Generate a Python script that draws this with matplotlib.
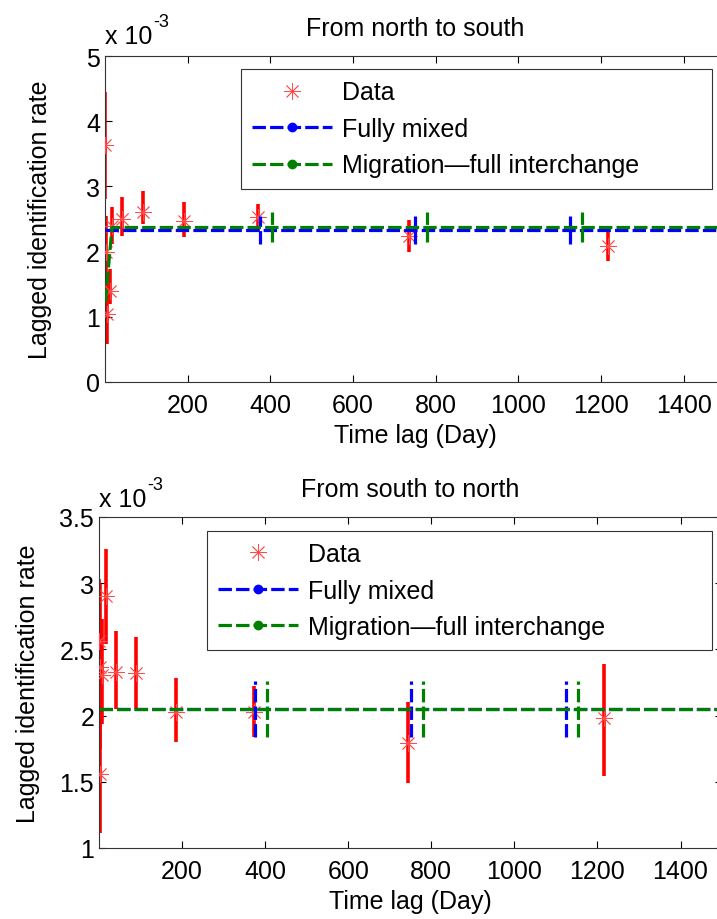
import numpy as np
import matplotlib.pyplot as plt
from matplotlib.lines import Line2D
from matplotlib.ticker import FormatStrFormatter

plt.rcParams["font.family"] = ["Liberation Sans", "DejaVu Sans"]

# rates are in units of 1e-3
# north -> south
ns_lag = [1, 2, 4, 12, 17, 42, 92, 190, 370, 736, 1218]
ns_rate = [3.63, 2.00, 1.04, 1.40, 2.40, 2.50, 2.60, 2.47, 2.53, 2.24, 2.09]
ns_low = [2.81, 1.45, 0.58, 1.20, 2.12, 2.24, 2.42, 2.22, 2.30, 2.00, 1.86]
ns_high = [4.45, 2.55, 1.50, 1.73, 2.68, 2.84, 2.93, 2.76, 2.73, 2.48, 2.30]

ns_mixed_lag = [0, 1500]
ns_mixed_rate = [2.33, 2.33]
ns_mig_lag = [1, 17, 1500]
ns_mig_rate = [1.22, 2.37, 2.37]
ns_mixed_bar = [375, 750, 1125]
ns_mig_bar = [403, 778, 1153]
ns_mixed_err = 0.22
ns_mig_err = 0.23

# south -> north
sn_lag = [1, 2, 3, 6, 16, 42, 90, 186, 374, 744, 1216]
sn_rate = [2.56, 2.37, 1.56, 2.31, 2.90, 2.33, 2.32, 2.03, 2.03, 1.79, 1.98]
sn_low = [2.09, 1.75, 1.11, 1.94, 2.54, 2.05, 2.05, 1.80, 1.84, 1.49, 1.54]
sn_high = [3.03, 2.99, 2.01, 2.73, 3.26, 2.64, 2.59, 2.28, 2.22, 2.10, 2.39]

sn_mixed_lag = [0, 1500]
sn_mixed_rate = [2.05, 2.05]
sn_mig_lag = [0, 1500]
sn_mig_rate = [2.05, 2.05]
sn_mixed_bar = [375, 750, 1125]
sn_mig_bar = [404, 779, 1154]
sn_mixed_err = 0.21
sn_mig_err = 0.21

FS = 18
dash = (0, (4.2, 1.3))
red = "#ff0000"
star_red = "#ff4a4a"
blue = "#0000ff"
green = "#008000"
star = (8, 2, 0)


def draw_panel(ax, lag, rate, low, high, mixed, mig, bars, title, ylim, yticks, ypos, ylab_x):
    rate = np.array(rate)
    err = [rate - np.array(low), np.array(high) - rate]
    ax.errorbar(lag, rate, yerr=err, fmt="none", ecolor=red, elinewidth=2.6, capsize=0, zorder=2)
    ax.plot(lag, rate, linestyle="none", marker=star, markersize=12,
            markeredgewidth=0.6, color=star_red, zorder=3)

    for (x, y), (bx, e), c in zip([mixed, mig], bars, [blue, green]):
        ax.plot(x, y, color=c, linewidth=2.3, linestyle=dash, zorder=4)
        yb = np.interp(bx, x, y)
        eb = ax.errorbar(bx, yb, yerr=e, fmt="none", ecolor=c, elinewidth=2.3, capsize=0, zorder=4)
        eb[2][0].set_linestyle(dash)

    ax.set_xlim(0, 1500)
    ax.set_ylim(*ylim)
    ax.set_xticks([200, 400, 600, 800, 1000, 1200, 1400])
    ax.set_yticks(yticks)
    ax.yaxis.set_major_formatter(FormatStrFormatter("%g"))
    ax.tick_params(direction="in", length=5, width=0.8, labelsize=FS, top=True, right=True)
    ax.tick_params(axis="x", pad=8)
    for side in ["top", "right", "bottom", "left"]:
        ax.spines[side].set_linewidth(0.8)
        ax.spines[side].set_color("#333333")

    ax.set_title(title, fontsize=FS, pad=15)
    ax.set_xlabel("Time lag (Day)", fontsize=FS, labelpad=4)
    ax.set_ylabel("Lagged identification rate", fontsize=FS)
    ax.yaxis.set_label_coords(ylab_x, 0.5)

    # exponent label, drawn as plain text with a hyphen like the original axes
    ax.text(0, ypos, "x 10", transform=ax.transAxes, fontsize=FS, va="baseline")
    ax.annotate("-3", xy=(0, ypos), xycoords="axes fraction", xytext=(34.5, 12),
                textcoords="offset points", fontsize=13, va="baseline")

    handles = [
        Line2D([], [], linestyle="none", marker=star, markersize=12,
               markeredgewidth=0.6, color=star_red),
        Line2D([], [], color=blue, linewidth=2.3, linestyle=dash, marker="o", markersize=6),
        Line2D([], [], color=green, linewidth=2.3, linestyle=dash, marker="o", markersize=6),
    ]
    return handles


fig = plt.figure(figsize=(7.17, 9.2), dpi=100)
ax1 = fig.add_axes([0.1464, 0.5837, 0.8647, 0.3543])
ax2 = fig.add_axes([0.1381, 0.0772, 0.8690, 0.3598])

h1 = draw_panel(ax1, ns_lag, ns_rate, ns_low, ns_high,
                (ns_mixed_lag, ns_mixed_rate), (ns_mig_lag, ns_mig_rate),
                [(ns_mixed_bar, ns_mixed_err), (ns_mig_bar, ns_mig_err)],
                "From north to south", (0, 5), [0, 1, 2, 3, 4, 5], 1.041, -0.085)
h2 = draw_panel(ax2, sn_lag, sn_rate, sn_low, sn_high,
                (sn_mixed_lag, sn_mixed_rate), (sn_mig_lag, sn_mig_rate),
                [(sn_mixed_bar, sn_mixed_err), (sn_mig_bar, sn_mig_err)],
                "From south to north", (1, 3.5), [1, 1.5, 2, 2.5, 3, 3.5], 1.034, -0.095)

labels = ["Data", "Fully mixed", "Migration\u2014full interchange"]
for ax, h, box in [(ax1, h1, (0.219, 0.601, 0.76, 0.359)), (ax2, h2, (0.173, 0.598, 0.811, 0.36))]:
    leg = ax.legend(h, labels, loc="upper left", bbox_to_anchor=box, mode="expand",
                    fontsize=FS, frameon=True, fancybox=False, framealpha=1,
                    edgecolor="#333333", handlelength=3.2, handletextpad=0.4,
                    labelspacing=0.5, borderpad=0.45, borderaxespad=0)
    leg.get_frame().set_linewidth(0.8)

fig.savefig("out.png", dpi=100)
